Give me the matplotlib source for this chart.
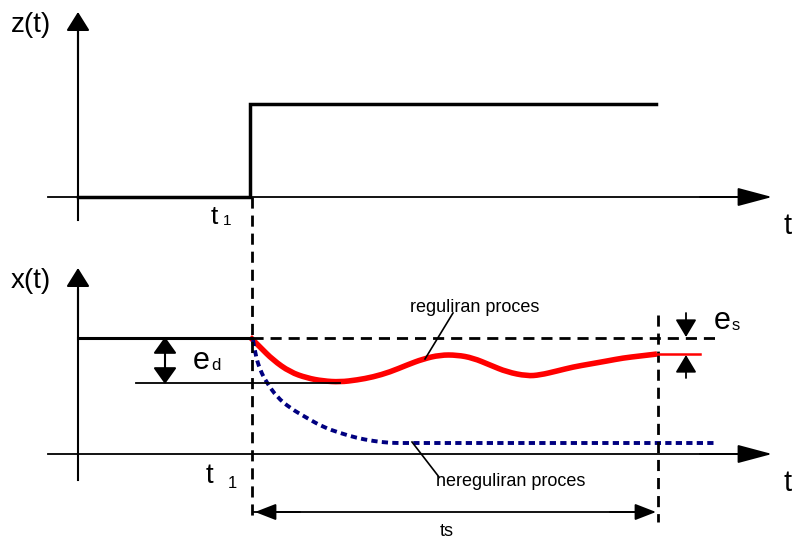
import matplotlib.pyplot as plt
from matplotlib.path import Path
from matplotlib.patches import PathPatch
import numpy as np

# diagram coordinates in image pixels (y grows downward)
z_step_x = [78, 250, 250, 656]
z_step_y = [197, 197, 104, 104]

red_x = [250, 260, 273, 290, 307, 323, 340, 357, 373, 390, 407, 423, 440, 457,
         473, 490, 507, 527, 540, 557, 573, 590, 607, 623, 640, 657]
red_y = [337, 347, 360, 372, 378, 381, 382, 380, 377, 372, 365, 359, 355, 355,
         358, 365, 372, 376, 375, 371, 367, 364, 361, 358, 356, 354]
red_tail_x = [657, 700]
red_tail_y = [354, 354]

blue_x = [253, 255, 260, 267, 277, 290, 307, 323, 340, 357, 373, 390, 407, 715]
blue_y = [340, 353, 370, 383, 397, 408, 418, 427, 433, 438, 441, 443, 443, 443]

plt.rcParams['font.family'] = ['Liberation Sans', 'DejaVu Sans']

fig = plt.figure(figsize=(7.93, 5.43), dpi=100)
ax = fig.add_axes([0, 0, 1, 1])
ax.set_xlim(0, 793)
ax.set_ylim(543, 0)
ax.axis('off')

PX = 0.72  # points per pixel at 100 dpi

def arrow(x0, y0, x1, y1, lw=1.5, w=16, l=16, style='-|>'):
    # w = full head width in px, l = head length in px
    ax.annotate('', xy=(x1, y1), xytext=(x0, y0),
                arrowprops=dict(arrowstyle='%s,head_width=%g,head_length=%g'
                                % (style, w / 2 * PX / 10, l * PX / 10),
                                color='black', lw=lw, shrinkA=0, shrinkB=0,
                                mutation_scale=10))

def smooth(xs, ys, **kw):
    # quadratic bezier through midpoints, read points act as control points
    pts = list(zip(xs, ys))
    verts = [pts[0]]
    codes = [Path.MOVETO]
    for i in range(1, len(pts) - 1):
        mid = ((pts[i][0] + pts[i + 1][0]) / 2, (pts[i][1] + pts[i + 1][1]) / 2)
        if i == len(pts) - 2:
            mid = pts[-1]
        verts += [pts[i], mid]
        codes += [Path.CURVE3, Path.CURVE3]
    ax.add_patch(PathPatch(Path(verts, codes), fill=False, **kw))

# top panel axes
ax.plot([48, 745], [197, 197], color='black', lw=1.3)
arrow(700, 197, 772, 197, lw=1.3, w=16, l=30)
ax.plot([78, 78], [220, 30], color='black', lw=1.5)
arrow(78, 60, 78, 12, lw=1.5, w=20, l=16)
ax.plot(z_step_x, z_step_y, color='black', lw=2.5, solid_joinstyle='miter')

ax.text(11, 25, 'z(t)', fontsize=20, va='center', ha='left')
ax.text(788, 226, 't', fontsize=21, va='center', ha='center')
ax.text(211, 217, 't', fontsize=19, va='center', ha='left')
ax.text(223, 221, '1', fontsize=11, va='center', ha='left')

# bottom panel axes
ax.plot([48, 745], [454, 454], color='black', lw=1.3)
arrow(700, 454, 772, 454, lw=1.3, w=16, l=30)
ax.plot([78, 78], [480, 290], color='black', lw=1.5)
arrow(78, 320, 78, 268, lw=1.5, w=20, l=16)

ax.text(11, 281, 'x(t)', fontsize=20, va='center', ha='left')
ax.text(788, 483, 't', fontsize=21, va='center', ha='center')
ax.text(206, 476, 't', fontsize=20, va='center', ha='left')
ax.text(228, 483, '1', fontsize=12, va='center', ha='left')

# reference level and deviation
ax.plot([78, 252], [338, 338], color='black', lw=2.2)
ax.plot([252, 715], [338, 338], color='black', lw=2, ls=(0, (4, 2.5)))
ax.plot([136, 340], [383, 383], color='black', lw=1.3)
arrow(165, 360, 165, 337, lw=1.5, w=20, l=14)
arrow(165, 360, 165, 384, lw=1.5, w=20, l=14)
ax.text(193, 361, 'e', fontsize=22, va='center', ha='left')
ax.text(211, 366, 'd', fontsize=12, va='center', ha='left')

# dashed verticals
ax.plot([252, 252], [197, 522], color='black', lw=2, ls=(0, (4, 2.5)))
ax.plot([658, 658], [315, 522], color='black', lw=2, ls=(0, (4, 2.5)))

# curves
smooth(red_x, red_y, edgecolor='#ff0000', lw=4, capstyle='butt')
ax.plot(red_tail_x, red_tail_y, color='#ff0000', lw=1.8)
smooth(blue_x, blue_y, edgecolor='#000080', lw=2.8, linestyle=(0, (1.6, 1.1)))

# steady-state error
arrow(686, 313, 686, 337, lw=1.3, w=18, l=15)
arrow(686, 378, 686, 355, lw=1.3, w=18, l=15)
ax.text(714, 321, 'e', fontsize=22, va='center', ha='left')
ax.text(732, 326, 's', fontsize=12, va='center', ha='left')

# settling time
ax.plot([254, 650], [512, 512], color='black', lw=1.3)
arrow(300, 512, 255, 512, lw=1.3, w=14, l=18)
arrow(610, 512, 656, 512, lw=1.3, w=14, l=18)
ax.text(447, 532, 'ts', fontsize=13, va='center', ha='center')

# labels with leader lines
ax.plot([453, 425], [313, 359], color='black', lw=1.2)
ax.text(475, 307, 'reguliran proces', fontsize=13, va='center', ha='center')
ax.plot([412, 439], [442, 477], color='black', lw=1.2)
ax.text(511, 482, 'nereguliran proces', fontsize=13, va='center', ha='center')

fig.savefig('out.png', dpi=100)
